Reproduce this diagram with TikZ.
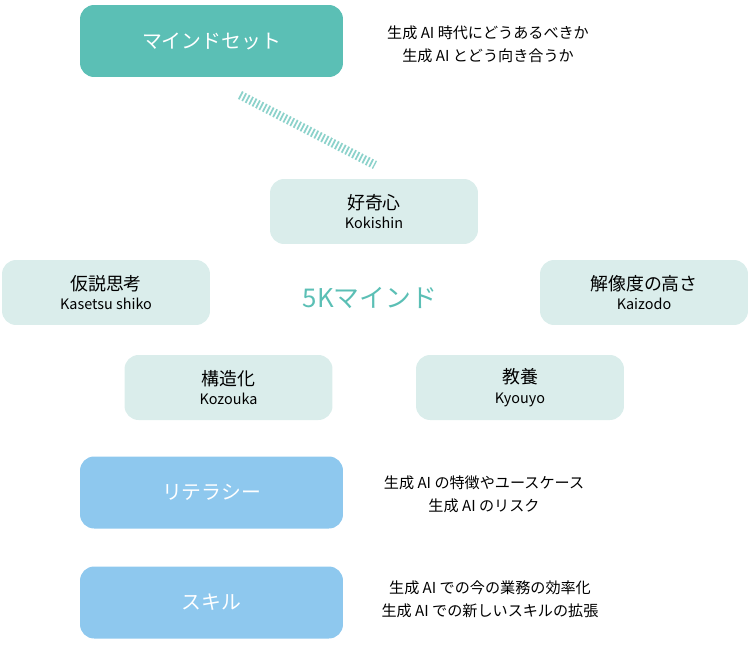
\documentclass[tikz,border=0pt]{standalone}
\usepackage{fontspec}
\setmainfont{Noto Sans CJK JP}
\usetikzlibrary{positioning}
\definecolor{teal5k}{HTML}{5BBFB5}
\definecolor{pale5k}{HTML}{DAEDEB}
\definecolor{blue5k}{HTML}{8EC8EE}
\tikzset{
	headbox/.style={rounded corners=8pt, minimum width=5.26cm, minimum height=1.44cm, text=white, font=\fontsize{11.3}{13}\selectfont},
	kbox/.style={rounded corners=8pt, fill=pale5k, minimum width=4.16cm, minimum height=1.3cm, align=center, font=\fontsize{10.2}{12}\selectfont, inner sep=0pt},
	note/.style={align=center, font=\fontsize{8.6}{13}\selectfont}
}
\newcommand{\kname}[2]{#1\\[-1pt]{\fontsize{8.2}{10}\selectfont #2}}

\begin{document}
\begin{tikzpicture}[x=0.02cm, y=-0.02cm]
	\useasboundingbox (0,0) rectangle (750,649);
	
	\node[headbox, fill=teal5k] (mind) at (211.5,41) {マインドセット};
	\node[note] (mindnote) at (488,44) {生成 AI 時代にどうあるべきか\\生成 AI とどう向き合うか};
	
	\coordinate (hs) at (240,95);
	\coordinate (he) at (375,165);
	\draw[teal5k!70, line width=5pt, dash pattern=on 1pt off 1.2pt] (hs) -- (he);
	
	\node[kbox] (koki) at (374,211.5) {\kname{好奇心}{Kokishin}};
	\node[kbox] (kasetsu) at (106,292.5) {\kname{仮説思考}{Kasetsu shiko}};
	\node[kbox] (kaizo) at (644,292.5) {\kname{解像度の高さ}{Kaizodo}};
	\node[kbox] (kozo) at (228.5,387.5) {\kname{構造化}{Kozouka}};
	\node[kbox] (kyo) at (520,387.5) {\kname{教養}{Kyouyo}};
	\node[text=teal5k, font=\fontsize{14.7}{16}\selectfont] (fivek) at (370,298) {5Kマインド};
	
	\node[headbox, fill=blue5k] (lit) at (211.5,492.5) {リテラシー};
	\node[note] (litnote) at (484,494.5) {生成 AI の特徴やユースケース\\生成 AI のリスク};
	
	\node[headbox, fill=blue5k] (skill) at (211.5,602.5) {スキル};
	\node[note] (skillnote) at (490,599.5) {生成 AI での今の業務の効率化\\生成 AI での新しいスキルの拡張};
\end{tikzpicture}
\end{document}
